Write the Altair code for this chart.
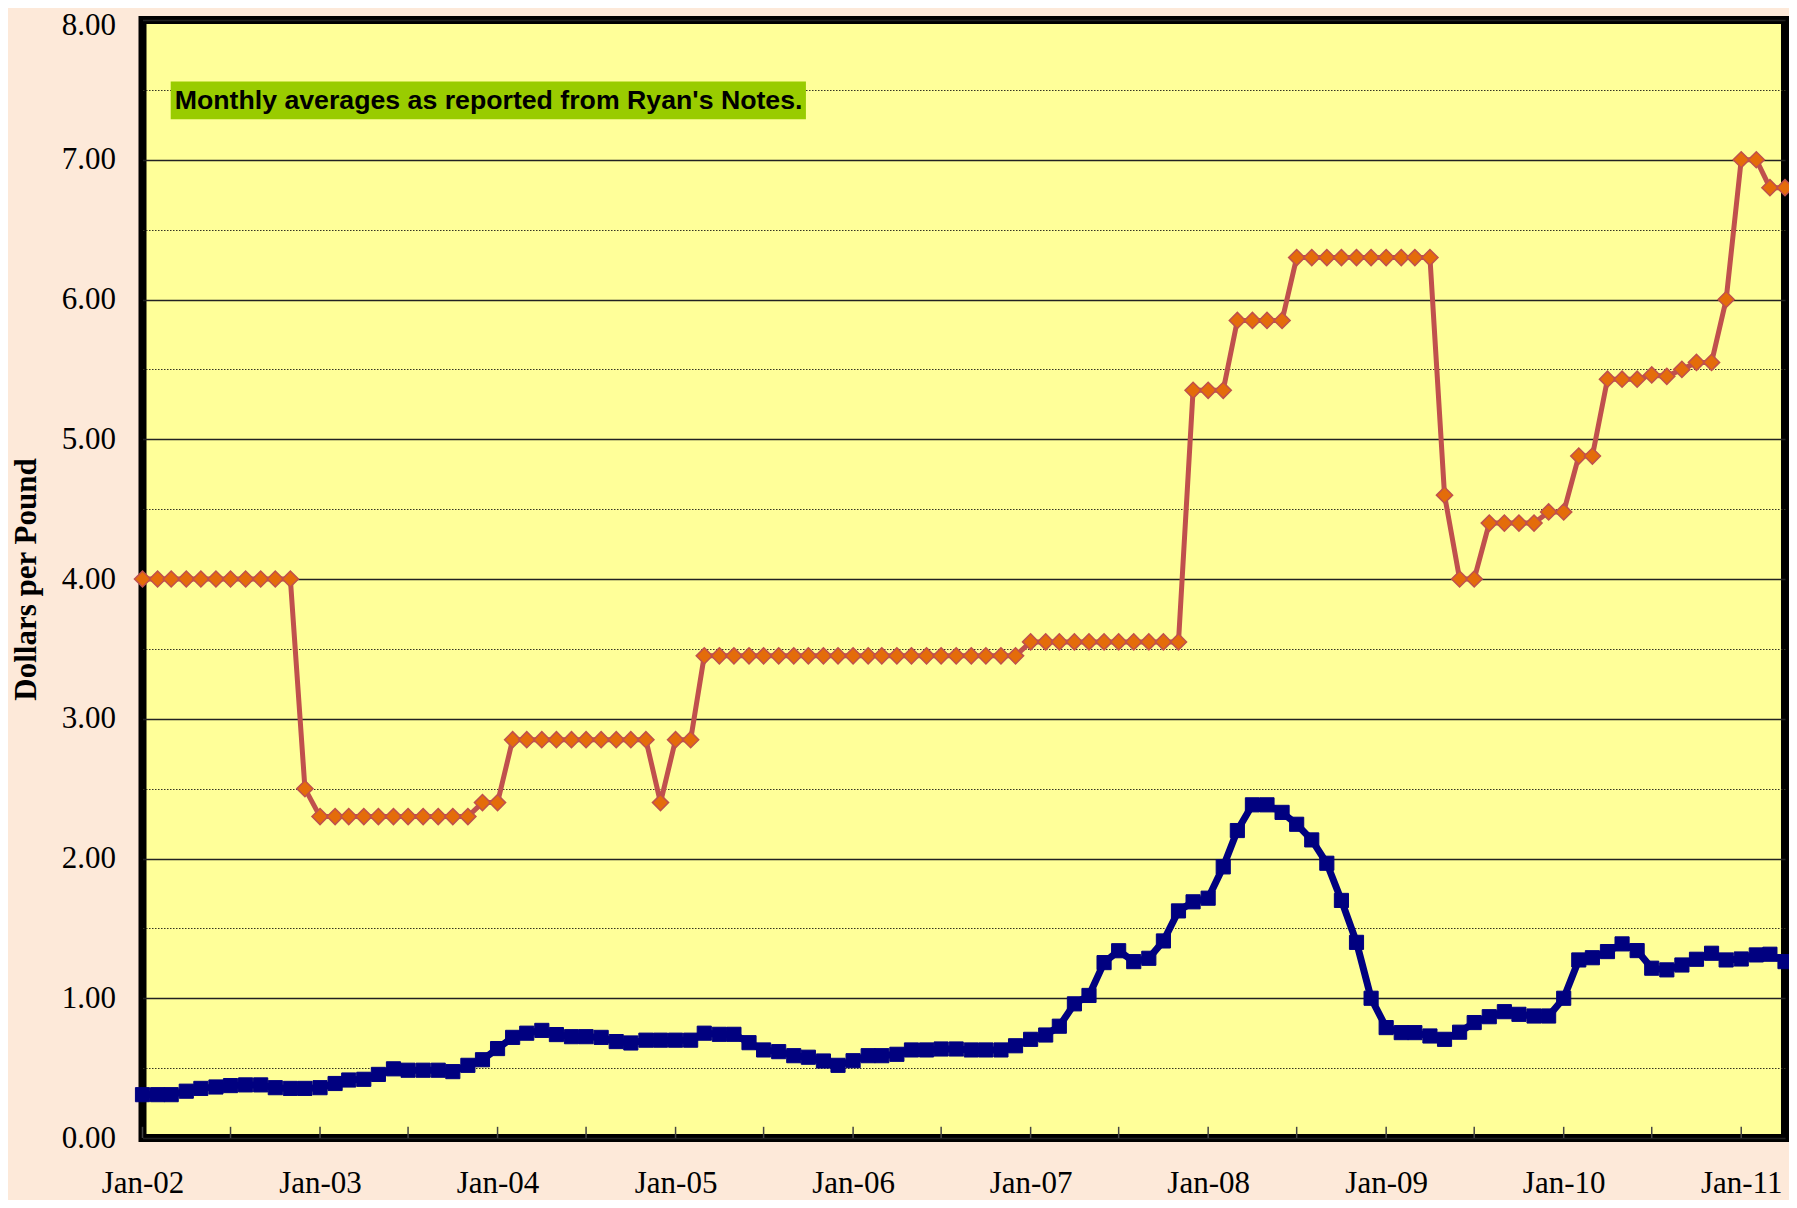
import altair as alt
import pandas as pd

# ---- data ----
months = [f"{y}-{m:02d}-01" for y in range(2002, 2012) for m in range(1, 13)][:112]

orange_values = [
    4.00, 4.00, 4.00, 4.00, 4.00, 4.00, 4.00, 4.00, 4.00, 4.00, 4.00, 2.50,   # 2002
    2.30, 2.30, 2.30, 2.30, 2.30, 2.30, 2.30, 2.30, 2.30, 2.30, 2.30, 2.40,   # 2003
    2.40, 2.85, 2.85, 2.85, 2.85, 2.85, 2.85, 2.85, 2.85, 2.85, 2.85, 2.40,   # 2004
    2.85, 2.85, 3.45, 3.45, 3.45, 3.45, 3.45, 3.45, 3.45, 3.45, 3.45, 3.45,   # 2005
    3.45, 3.45, 3.45, 3.45, 3.45, 3.45, 3.45, 3.45, 3.45, 3.45, 3.45, 3.45,   # 2006
    3.55, 3.55, 3.55, 3.55, 3.55, 3.55, 3.55, 3.55, 3.55, 3.55, 3.55, 5.35,   # 2007
    5.35, 5.35, 5.85, 5.85, 5.85, 5.85, 6.30, 6.30, 6.30, 6.30, 6.30, 6.30,   # 2008
    6.30, 6.30, 6.30, 6.30, 4.60, 4.00, 4.00, 4.40, 4.40, 4.40, 4.40, 4.48,   # 2009
    4.48, 4.88, 4.88, 5.43, 5.43, 5.43, 5.46, 5.45, 5.50, 5.55, 5.55, 6.00,   # 2010
    7.00, 7.00, 6.80, 6.80,                                                   # 2011
]

blue_values = [
    0.31, 0.31, 0.31, 0.335, 0.355, 0.365, 0.375, 0.38, 0.38, 0.36, 0.355, 0.355,   # 2002
    0.36, 0.39, 0.415, 0.42, 0.455, 0.495, 0.485, 0.485, 0.485, 0.475, 0.52, 0.56,  # 2003
    0.64, 0.72, 0.75, 0.77, 0.74, 0.725, 0.725, 0.72, 0.69, 0.68, 0.70, 0.70,      # 2004
    0.70, 0.70, 0.75, 0.742, 0.742, 0.682, 0.63, 0.618, 0.589, 0.578, 0.551, 0.52, # 2005
    0.553, 0.589, 0.589, 0.599, 0.63, 0.63, 0.637, 0.637, 0.63, 0.63, 0.63, 0.66,  # 2006
    0.706, 0.737, 0.80, 0.96, 1.02, 1.255, 1.34, 1.262, 1.286, 1.41, 1.625, 1.69,  # 2007
    1.716, 1.94, 2.20, 2.384, 2.384, 2.33, 2.245, 2.133, 1.966, 1.70, 1.40, 1.00,  # 2008
    0.79, 0.754, 0.754, 0.73, 0.706, 0.757, 0.826, 0.868, 0.904, 0.885, 0.873, 0.873,  # 2009
    1.00, 1.274, 1.29, 1.334, 1.389, 1.341, 1.215, 1.203, 1.238, 1.279, 1.322, 1.274,  # 2010
    1.281, 1.31, 1.315, 1.262,                                                     # 2011
]

x_label_years = list(range(2002, 2012))            # Jan-02 ... Jan-11 labels
x_tick_dates = [f"{y}-{m:02d}-01" for y in range(2002, 2012) for m in (1, 7)][:19]
y_tick_values = [i * 0.25 for i in range(33)]      # 0.00 ... 8.00 (minor every 0.25)

note_text = "Monthly averages as reported from Ryan's Notes."
note_x = ["2002-02-28", "2005-09-26"]
note_y = [7.29, 7.56]

# ---- tables ----
orange_df = pd.DataFrame({"date": months, "value": orange_values})
blue_df = pd.DataFrame({"date": months, "value": blue_values})
tick_df = pd.DataFrame({"date": x_tick_dates})
note_df = pd.DataFrame({"start": [note_x[0]], "end": [note_x[1]],
                        "ylo": [note_y[0]], "yhi": [note_y[1]],
                        "ymid": [(note_y[0] + note_y[1]) / 2], "text": [note_text]})

# ---- scales / axes ----
x_scale = alt.Scale(type="utc", domain=[alt.DateTime(year=2002, month=1, date=1, utc=True),
                                        alt.DateTime(year=2011, month=4, date=1, utc=True)])
y_scale = alt.Scale(domain=[0, 8], nice=False, zero=True)

x_axis = alt.Axis(
    values=[alt.DateTime(year=y, month=1, date=1, utc=True) for y in x_label_years],
    labelExpr="utcFormat(datum.value, '%b-%y')",
    title=None, ticks=False, domain=False, grid=False,
    labelFont="Liberation Serif", labelFontSize=31, labelColor="black",
    labelPadding=30, labelFlush=False, labelOverlap=False,
)
y_axis = alt.Axis(
    values=y_tick_values,
    labelExpr="datum.value % 1 === 0 ? format(datum.value, '.2f') : ''",
    labelOffset={"condition": {"test": "datum.value === 8", "value": 5}, "value": 0},
    grid=True,
    gridDash={"condition": {"test": "datum.value % 1 !== 0", "value": [1.5, 1.5]}, "value": []},
    gridColor={"condition": {"test": "datum.value % 1 !== 0", "value": "#333322"}, "value": "#222222"},
    gridWidth={"condition": {"test": "datum.value % 1 !== 0", "value": 1.2}, "value": 1.6},
    ticks=False, domain=False,
    title="Dollars per Pound", titleFont="Liberation Serif", titleFontSize=31,
    titleFontWeight="bold", titleColor="black", titlePadding=19,
    labelFont="Liberation Serif", labelFontSize=31, labelColor="black",
    labelPadding=27, labelOverlap=False, labelFlush=False,
)

X = alt.X("date:T", scale=x_scale, axis=x_axis)
Y = alt.Y("value:Q", scale=y_scale, axis=y_axis)

blue_line = alt.Chart(blue_df).mark_line(color="#000080", strokeWidth=7).encode(x=X, y=Y)
blue_pts = alt.Chart(blue_df).mark_point(shape="square", filled=True, fill="#000080",
                                         stroke="#000080", strokeWidth=1, size=200,
                                         opacity=1).encode(x=X, y=Y)
orange_line = alt.Chart(orange_df).mark_line(color="#C0504D", strokeWidth=5).encode(x=X, y=Y)
orange_pts = alt.Chart(orange_df).mark_point(shape="diamond", filled=True, fill="#E46C0A",
                                             stroke="#C0504D", strokeWidth=1.5, size=260,
                                             opacity=1).encode(x=X, y=Y)

ticks = alt.Chart(tick_df).mark_rule(color="#444444", strokeWidth=1.5).encode(
    x=alt.X("date:T", scale=x_scale, axis=x_axis),
    y=alt.datum(0), y2=alt.datum(0.08),
)

note_box = alt.Chart(note_df).mark_rect(color="#99CC00").encode(
    x=alt.X("start:T", scale=x_scale, axis=x_axis), x2="end:T",
    y=alt.Y("ylo:Q", scale=y_scale, axis=y_axis), y2="yhi:Q",
)
note_label = alt.Chart(note_df).mark_text(
    align="left", baseline="middle", dx=4, dy=1,
    font="Liberation Sans", fontWeight="bold", fontSize=26.7, color="black",
).encode(
    x=alt.X("start:T", scale=x_scale, axis=x_axis),
    y=alt.Y("ymid:Q", scale=y_scale, axis=y_axis),
    text="text:N",
)

chart = alt.layer(
    blue_line, ticks, blue_pts, orange_line, orange_pts, note_box, note_label
).properties(
    width=1642.5, height=1118,
    autosize=alt.AutoSizeParams(type="none"),
    padding={"left": 134.5, "top": 12, "right": 4, "bottom": 62},
).configure(
    background="#FDE9D9",
).configure_view(
    fill="#FFFF99", stroke="black", strokeWidth=8,
)

chart.save("out.html", embed_options={"renderer": "svg", "actions": False})
